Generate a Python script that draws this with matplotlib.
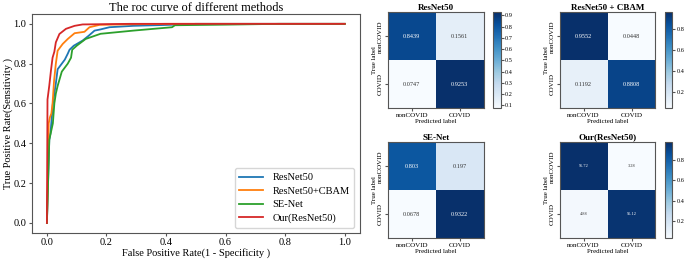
#!/usr/bin/env python3
"""ROC curves and confusion matrices for the compared models."""

import matplotlib
matplotlib.use('Agg')
import matplotlib.pyplot as plt
import numpy as np

plt.rcParams['font.family'] = ['Liberation Serif', 'DejaVu Serif']
plt.rcParams['axes.edgecolor'] = '#555555'

# ROC curves
resnet_fpr = [0.0, 0.008, 0.012, 0.02, 0.03, 0.036, 0.045, 0.06, 0.07, 0.076, 0.09, 0.12, 0.14,
              0.16, 0.18, 0.21, 0.29, 0.41, 0.5, 1.0]
resnet_tpr = [0.0, 0.418, 0.45, 0.6, 0.7, 0.772, 0.79, 0.82, 0.85, 0.87, 0.89, 0.916, 0.94,
              0.966, 0.972, 0.983, 0.99, 0.995, 1.0, 1.0]
cbam_fpr = [0.0, 0.004, 0.006, 0.01, 0.015, 0.019, 0.024, 0.03, 0.036, 0.053, 0.07, 0.093, 0.126,
            0.143, 0.177, 0.25, 0.4, 1.0]
cbam_tpr = [0.0, 0.26, 0.5, 0.53, 0.55, 0.6, 0.713, 0.8, 0.865, 0.899, 0.924, 0.953, 0.96,
            0.983, 0.995, 0.997, 1.0, 1.0]
senet_fpr = [0.0, 0.008, 0.02, 0.025, 0.03, 0.036, 0.05, 0.06, 0.07, 0.081, 0.085, 0.1, 0.13,
             0.18, 0.29, 0.42, 0.43, 0.6, 0.78, 1.0]
senet_tpr = [0.0, 0.418, 0.5, 0.6, 0.65, 0.688, 0.76, 0.78, 0.8, 0.83, 0.87, 0.89, 0.924,
             0.95, 0.966, 0.983, 0.993, 0.996, 1.0, 1.0]
ours_fpr = [0.0, 0.002, 0.008, 0.0135, 0.019, 0.025, 0.03, 0.042, 0.064, 0.093, 0.12, 0.28, 1.0]
ours_tpr = [0.0, 0.62, 0.69, 0.764, 0.83, 0.86, 0.907, 0.949, 0.975, 0.99, 0.997, 1.0, 1.0]

roc_labels = ['ResNet50', 'ResNet50+CBAM', 'SE-Net', 'Our(ResNet50)']
roc_colors = ['#1f77b4', '#ff7f0e', '#2ca02c', '#d62728']

# confusion matrices (row-normalised)
class_names = ['nonCOVID', 'COVID']
cm_titles = ['ResNet50', 'ResNet50 + CBAM', 'SE-Net', 'Our(ResNet50)']
cm_resnet = [[0.8439, 0.1561], [0.0747, 0.9253]]
cm_cbam = [[0.9552, 0.0448], [0.1192, 0.8808]]
cm_senet = [[0.803, 0.197], [0.0678, 0.9322]]
cm_ours = [[0.9672, 0.0328], [0.0488, 0.9512]]
cm_text = [['0.8439', '0.1561', '0.0747', '0.9253'],
           ['0.9552', '0.0448', '0.1192', '0.8808'],
           ['0.803', '0.197', '0.0678', '0.9322'],
           ['96.72', '3.28', '4.88', '95.12']]

fig = plt.figure(figsize=(6.84, 2.62), dpi=100)

ax = fig.add_axes([0.0468, 0.111, 0.479, 0.836])
curves = [(resnet_fpr, resnet_tpr), (cbam_fpr, cbam_tpr), (senet_fpr, senet_tpr), (ours_fpr, ours_tpr)]
for (fpr, tpr), lab, col in zip(curves, roc_labels, roc_colors):
    ax.plot(fpr, tpr, color=col, label=lab, linewidth=1.3)
ax.set_xlim(-0.05, 1.05)
ax.set_ylim(-0.05, 1.05)
ax.set_xticks([0.0, 0.2, 0.4, 0.6, 0.8, 1.0])
ax.set_yticks([0.0, 0.2, 0.4, 0.6, 0.8, 1.0])
ax.tick_params(labelsize=7.5, length=2.5, pad=1.5, color='#555555')
ax.set_title('The roc curve of different methods', fontsize=9, pad=2)
ax.set_xlabel('False Positive Rate(1 - Specificity )', fontsize=7.5, labelpad=0.5)
ax.set_ylabel('True Positive Rate(Sensitivity )', fontsize=7.5, labelpad=0.5)
ax.legend(loc='lower right', fontsize=7.5, handlelength=2.3, borderpad=0.45, labelspacing=0.4,
          handletextpad=0.9)

cms = [cm_resnet, cm_cbam, cm_senet, cm_ours]
positions = [(0.5665, 0.5866), (0.8177, 0.5866), (0.5665, 0.0905), (0.8177, 0.0905)]
has_cbar = [True, True, False, True]
cbar_ticks = [np.arange(0.1, 0.95, 0.1), [0.2, 0.4, 0.6, 0.8], None, [0.2, 0.4, 0.6, 0.8]]
text_size = [4.5, 4.5, 4.5, 3.2]

for i, cm in enumerate(cms):
    cm = np.array(cm)
    x0, y0 = positions[i]
    cax = fig.add_axes([x0, y0, 0.141, 0.366])
    im = cax.imshow(cm, cmap='Blues', interpolation='nearest')
    cax.set_title(cm_titles[i], fontsize=6.5, fontweight='bold', pad=2)
    cax.set_xticks([0, 1])
    cax.set_yticks([0, 1])
    cax.set_xticklabels(class_names, fontsize=5)
    cax.set_yticklabels(class_names, fontsize=5, rotation=90, va='center')
    cax.set_xlabel('Predicted label', fontsize=5, labelpad=0.5)
    cax.set_ylabel('True label', fontsize=5, labelpad=0.5)
    cax.tick_params(length=2, pad=1.5, color='#555555')
    thresh = cm.max() / 2.0
    for r in range(2):
        for c in range(2):
            cax.text(c, r, cm_text[i][r * 2 + c], ha='center', va='center', fontsize=text_size[i],
                     color='white' if cm[r, c] > thresh else '#333333')
    if has_cbar[i]:
        bax = fig.add_axes([x0 + 0.1543, y0, 0.011, 0.366])
        cb = fig.colorbar(im, cax=bax)
        cb.set_ticks(cbar_ticks[i])
        cb.ax.tick_params(labelsize=4.5, length=2, pad=1, color='#555555')
        cb.outline.set_edgecolor('#555555')

plt.savefig('out.png', dpi=100)
